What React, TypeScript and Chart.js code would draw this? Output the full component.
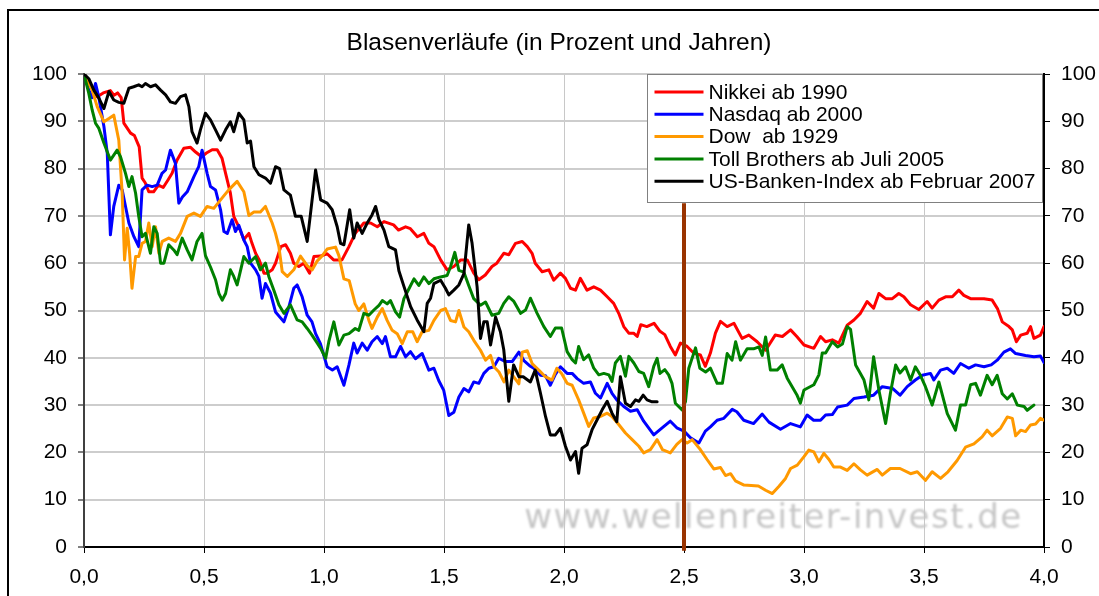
import React, { useEffect, useRef } from 'react';
import { Chart, registerables } from 'chart.js';

Chart.register(...registerables);

const TITLE = 'Blasenverläufe (in Prozent und Jahren)';
const WATERMARK = 'www.wellenreiter-invest.de';
const FONT = '"Liberation Sans", Arial, sans-serif';

const xTicks = [0, 0.5, 1, 1.5, 2, 2.5, 3, 3.5, 4];
const xTickLabels = ['0,0', '0,5', '1,0', '1,5', '2,0', '2,5', '3,0', '3,5', '4,0'];
const yTicks = [0, 10, 20, 30, 40, 50, 60, 70, 80, 90, 100];

const seriesNames = [
  'Nikkei ab 1990',
  'Nasdaq ab 2000',
  'Dow  ab 1929',
  'Toll Brothers ab Juli 2005',
  'US-Banken-Index ab Februar 2007',
];
const seriesColors = ['#ff0000', '#0000ff', '#ff9900', '#008000', '#000000'];

// [years, percent]
const nikkei: [number, number][] = [
  [0, 100], [0.055, 95.2], [0.08, 96], [0.11, 96.5], [0.125, 95.5], [0.14, 96], [0.155, 95], [0.166, 89.6],
  [0.194, 87.5], [0.21, 87], [0.23, 84.6], [0.242, 78], [0.255, 77], [0.27, 75.1], [0.29, 75.1], [0.31, 76.5],
  [0.33, 76], [0.35, 77.6], [0.367, 79], [0.388, 81.8], [0.416, 84.3], [0.444, 84.5], [0.465, 83.5], [0.49, 82.5],
  [0.51, 83.3], [0.534, 84], [0.555, 84], [0.575, 82.2], [0.59, 79], [0.61, 74.8], [0.624, 69.9], [0.645, 67.7],
  [0.666, 65], [0.687, 66.3], [0.7, 64.2], [0.715, 62.1], [0.73, 60.7], [0.75, 57.9], [0.764, 57.9], [0.784, 58.6],
  [0.798, 60], [0.82, 63.5], [0.84, 63.9], [0.86, 62.1], [0.874, 60], [0.895, 59.3], [0.916, 60], [0.94, 57.9],
  [0.958, 61.4], [0.985, 61.5], [1.013, 62], [1.04, 60.7], [1.075, 60.7], [1.104, 63.5], [1.13, 66.3], [1.166, 68.5],
  [1.194, 68.5], [1.222, 67.7], [1.25, 68.8], [1.29, 68.1], [1.31, 67], [1.34, 67.7], [1.36, 67.3], [1.389, 65.6],
  [1.416, 66.3], [1.437, 64.2], [1.458, 63.5], [1.486, 60.7], [1.513, 58.6], [1.541, 59.3], [1.57, 60.7], [1.597, 60.7],
  [1.624, 57.9], [1.645, 56.5], [1.672, 57.5], [1.7, 59.3], [1.72, 60], [1.749, 62.1], [1.77, 61.8], [1.798, 64.2],
  [1.826, 64.6], [1.847, 63.5], [1.867, 62.1], [1.88, 60], [1.909, 58.2], [1.937, 58.6], [1.957, 56.4], [1.985, 57.9],
  [2.006, 56.8], [2.027, 54.7], [2.048, 54.3], [2.068, 56.8], [2.096, 54.3], [2.124, 55], [2.152, 54.3], [2.18, 52.9],
  [2.207, 51.5], [2.228, 49.4], [2.249, 46.6], [2.27, 45.2], [2.29, 45.2], [2.305, 44.5], [2.32, 47], [2.345, 46.6],
  [2.375, 47.3], [2.4, 45.6], [2.42, 44.9], [2.443, 42.4], [2.464, 40.6], [2.485, 43.1], [2.513, 42.4], [2.54, 41],
  [2.568, 40.6], [2.589, 38.2], [2.61, 41], [2.631, 45.2], [2.652, 47.7], [2.68, 46.6], [2.708, 47.3], [2.742, 44.1],
  [2.77, 44.8], [2.805, 43.4], [2.84, 41.6], [2.88, 44.8], [2.91, 44.5], [2.944, 45.9], [2.97, 44.5], [3.0, 42.7],
  [3.041, 42], [3.069, 44.5], [3.09, 43.4], [3.118, 43.8], [3.145, 43.1], [3.18, 46.9], [3.208, 48], [3.235, 49.4],
  [3.263, 51.9], [3.29, 50.5], [3.312, 53.6], [3.34, 52.5], [3.368, 52.5], [3.395, 53.6], [3.416, 52.9], [3.444, 51.2],
  [3.478, 50.2], [3.513, 51.9], [3.534, 50.5], [3.562, 52.2], [3.59, 52.9], [3.618, 52.9], [3.645, 54.3], [3.666, 53.2],
  [3.694, 52.5], [3.75, 52.5], [3.784, 52.2], [3.806, 50.4], [3.826, 47.6], [3.854, 46.6], [3.868, 45.9], [3.885, 43.4],
  [3.903, 44.8], [3.93, 45.2], [3.944, 46.6], [3.958, 44.1], [3.985, 44.8], [4.0, 46.6],
];

const nasdaq: [number, number][] = [
  [0, 100], [0.02, 96.6], [0.034, 95], [0.048, 98], [0.062, 95], [0.083, 88.9], [0.097, 83.2], [0.11, 66],
  [0.124, 72], [0.145, 76.5], [0.159, 75.5], [0.173, 72], [0.187, 68.5], [0.208, 65.6], [0.228, 63.5], [0.242, 75.5],
  [0.263, 76.5], [0.284, 76.2], [0.305, 76.5], [0.325, 79], [0.34, 79.7], [0.36, 83.9], [0.381, 81.1], [0.395, 72.7],
  [0.41, 74], [0.43, 75.1], [0.458, 78.3], [0.478, 80.4], [0.492, 83.9], [0.513, 79], [0.527, 76.2], [0.548, 75.5],
  [0.569, 71.3], [0.583, 66.7], [0.597, 66.3], [0.617, 69.2], [0.631, 66.7], [0.645, 68], [0.666, 64.9], [0.68, 63.5],
  [0.694, 60], [0.715, 58.6], [0.729, 57.2], [0.742, 52.6], [0.756, 55.7], [0.777, 53.7], [0.798, 49.7], [0.833, 47.6],
  [0.854, 50.8], [0.874, 54.7], [0.888, 55.4], [0.909, 52.9], [0.93, 49], [0.95, 47.6], [0.965, 45.1], [0.985, 43],
  [1.013, 38.1], [1.035, 37.4], [1.055, 38.1], [1.083, 34.2], [1.104, 38.5], [1.124, 43.1], [1.138, 41], [1.159, 43.1],
  [1.18, 41.6], [1.2, 43.4], [1.222, 44.5], [1.243, 43], [1.256, 44.5], [1.277, 40.2], [1.298, 40.2], [1.319, 42.4],
  [1.34, 40.2], [1.36, 41.3], [1.381, 39.8], [1.409, 40.9], [1.437, 37.4], [1.458, 37.8], [1.478, 35.2], [1.499, 33.1],
  [1.52, 27.8], [1.541, 28.5], [1.562, 31.7], [1.583, 33.5], [1.603, 32.8], [1.624, 34.9], [1.645, 34.6], [1.666, 36.7],
  [1.687, 37.8], [1.708, 38.1], [1.728, 39.9], [1.756, 39.2], [1.784, 39.2], [1.812, 41.2], [1.833, 39.4], [1.86, 38.2],
  [1.874, 37.8], [1.902, 36.3], [1.923, 36.2], [1.943, 34.2], [1.964, 36.5], [1.985, 38.1], [2.013, 36.7], [2.034, 36.7],
  [2.055, 35.6], [2.082, 34.6], [2.11, 34.9], [2.131, 32.5], [2.152, 31.5], [2.18, 34.6], [2.2, 32.5], [2.22, 31.1],
  [2.249, 29.7], [2.277, 28.7], [2.305, 29], [2.332, 26.6], [2.374, 23.7], [2.4, 24.8], [2.443, 26.6], [2.47, 25.2],
  [2.5, 24.5], [2.527, 23.1], [2.562, 22], [2.589, 24.5], [2.61, 25.4], [2.638, 26.8], [2.666, 27.2], [2.701, 29.1],
  [2.72, 28.6], [2.749, 26.8], [2.79, 26.1], [2.826, 28.1], [2.854, 26.4], [2.902, 24.9], [2.944, 26.1], [2.985, 25.4],
  [3.013, 27.9], [3.04, 26.8], [3.069, 26.8], [3.09, 27.9], [3.118, 28], [3.14, 29.6], [3.18, 30], [3.208, 31.4],
  [3.25, 31.7], [3.29, 32.1], [3.326, 33.9], [3.37, 33.5], [3.4, 32.1], [3.43, 33.9], [3.464, 35.3], [3.493, 36.3],
  [3.527, 36.7], [3.541, 35.3], [3.569, 37.4], [3.597, 37.8], [3.624, 36.7], [3.652, 38.8], [3.687, 37.8], [3.715, 38.5],
  [3.75, 38.1], [3.78, 38.5], [3.805, 39.5], [3.833, 41.2], [3.86, 41.9], [3.882, 40.9], [3.923, 40.5], [3.958, 40.2],
  [3.985, 40.4], [4.0, 39],
];

const dow: [number, number][] = [
  [0, 100], [0.034, 96.6], [0.055, 93.1], [0.083, 89.9], [0.104, 90.6], [0.124, 91.3], [0.145, 86], [0.159, 74.8],
  [0.169, 60.7], [0.18, 67.4], [0.19, 62.1], [0.2, 54.7], [0.215, 61.4], [0.228, 61.4], [0.242, 64.2], [0.256, 64.6],
  [0.27, 68.5], [0.284, 63.5], [0.298, 67.7], [0.312, 62.1], [0.326, 64.6], [0.353, 65.3], [0.381, 64.6], [0.402, 66.3],
  [0.43, 69.9], [0.458, 70.6], [0.485, 69.9], [0.513, 72], [0.541, 71.6], [0.569, 73.4], [0.603, 75.5], [0.638, 77.3],
  [0.666, 75.1], [0.687, 70.1], [0.708, 70.8], [0.735, 70.8], [0.756, 72], [0.784, 68.5], [0.798, 66.3], [0.812, 63.5],
  [0.826, 58.2], [0.847, 57.2], [0.874, 58.6], [0.902, 61.5], [0.93, 59.5], [0.951, 58.6], [0.972, 60.5], [0.993, 61.6],
  [1.013, 63], [1.048, 63.4], [1.062, 61.6], [1.083, 56.7], [1.105, 56.3], [1.13, 51.4], [1.145, 50], [1.166, 51.4],
  [1.187, 47.9], [1.2, 46.2], [1.222, 48.6], [1.243, 50.4], [1.263, 47.9], [1.284, 45.8], [1.305, 45.1], [1.326, 43],
  [1.347, 45.5], [1.37, 45.5], [1.388, 43.4], [1.409, 45.5], [1.437, 45.8], [1.458, 47.9], [1.486, 50], [1.506, 50.4],
  [1.527, 47.9], [1.548, 47.6], [1.562, 50], [1.583, 46.5], [1.603, 45.5], [1.624, 43.7], [1.652, 41.6], [1.673, 39.5],
  [1.694, 40.5], [1.708, 38.1], [1.729, 37], [1.75, 34.9], [1.77, 37.4], [1.79, 36], [1.812, 34.5], [1.826, 41.2],
  [1.847, 41.5], [1.868, 38.7], [1.895, 37.4], [1.922, 36], [1.95, 35.3], [1.97, 37.8], [1.99, 36.7], [2.013, 34.6],
  [2.034, 34.2], [2.061, 31.1], [2.082, 28.3], [2.103, 25.5], [2.124, 27.3], [2.152, 27.6], [2.18, 28.3], [2.2, 27.6],
  [2.228, 25.9], [2.256, 24.1], [2.284, 22.7], [2.312, 21.3], [2.332, 19.9], [2.36, 20.6], [2.388, 22.7], [2.41, 20.6],
  [2.443, 19.9], [2.47, 21.7], [2.492, 22.7], [2.513, 22], [2.534, 22.7], [2.568, 20.6], [2.596, 18.5], [2.624, 16.5],
  [2.652, 16.8], [2.673, 15.1], [2.694, 15.5], [2.714, 14], [2.75, 13.1], [2.78, 13], [2.81, 12.9], [2.84, 12],
  [2.868, 11.3], [2.895, 12.8], [2.923, 14.5], [2.944, 16.6], [2.972, 17.3], [3.0, 19.1], [3.02, 20.5], [3.041, 20.1],
  [3.062, 18], [3.083, 19.8], [3.104, 18.5], [3.124, 16.9], [3.152, 16.9], [3.18, 16.2], [3.208, 17.6], [3.235, 16.3],
  [3.263, 15.2], [3.305, 16.4], [3.326, 15.2], [3.36, 16.6], [3.4, 16.6], [3.444, 15.5], [3.472, 15.9], [3.506, 14.1],
  [3.534, 15.9], [3.569, 14.5], [3.6, 15.9], [3.638, 18.3], [3.673, 21.1], [3.708, 21.8], [3.742, 23.3], [3.763, 24.7],
  [3.784, 23.5], [3.819, 25.1], [3.847, 27.5], [3.868, 27.2], [3.882, 23.5], [3.903, 24.7], [3.923, 24.4], [3.944, 25.8],
  [3.965, 26], [3.985, 27.2], [4.0, 26.8],
];

const toll: [number, number][] = [
  [0, 100], [0.02, 95.9], [0.034, 92.4], [0.048, 89.6], [0.062, 88.5], [0.083, 85.4], [0.11, 81.8], [0.138, 83.9],
  [0.152, 82.5], [0.173, 79], [0.187, 76.2], [0.2, 78.3], [0.215, 74.8], [0.228, 69.9], [0.242, 65.6], [0.256, 66.3],
  [0.277, 62.1], [0.291, 67.7], [0.305, 66.3], [0.319, 60], [0.333, 60], [0.353, 63.9], [0.374, 62.8], [0.388, 61.8],
  [0.409, 65.3], [0.43, 62.8], [0.45, 60.7], [0.471, 64.6], [0.492, 66.3], [0.506, 61.6], [0.527, 59.2], [0.548, 56.5],
  [0.562, 53.6], [0.576, 52.2], [0.59, 53.6], [0.61, 58.6], [0.624, 57.2], [0.638, 55.4], [0.666, 61.4], [0.687, 60],
  [0.715, 61.4], [0.735, 58.6], [0.756, 60], [0.77, 57.2], [0.791, 54.3], [0.812, 51.2], [0.833, 49.4], [0.86, 51.2],
  [0.888, 48], [0.909, 47.6], [0.93, 46.2], [0.95, 44.8], [0.972, 43.1], [0.986, 42], [1.007, 39.9], [1.02, 43.4],
  [1.041, 47.6], [1.062, 42.7], [1.083, 44.8], [1.104, 45.1], [1.13, 46.2], [1.145, 45.8], [1.166, 49.4], [1.187, 49],
  [1.208, 50.1], [1.229, 51.1], [1.243, 52.1], [1.263, 51.4], [1.277, 52.1], [1.298, 49.7], [1.315, 48.6], [1.333, 52.5],
  [1.354, 54.6], [1.375, 56.7], [1.395, 55.3], [1.416, 57.1], [1.437, 55.7], [1.458, 56.7], [1.486, 57.1], [1.513, 57.4],
  [1.527, 59.2], [1.545, 62.3], [1.562, 58.5], [1.583, 58.1], [1.603, 55.3], [1.624, 52.5], [1.652, 51.1], [1.673, 51.8],
  [1.7, 49], [1.728, 49.4], [1.749, 51.5], [1.77, 52.9], [1.79, 52], [1.819, 49.4], [1.84, 50.1], [1.86, 52.6],
  [1.888, 49.4], [1.916, 46.6], [1.943, 44.5], [1.964, 46.3], [1.99, 46.3], [2.013, 41.3], [2.034, 39.6], [2.048, 38.9],
  [2.061, 42.4], [2.082, 39.6], [2.103, 40.6], [2.124, 37.8], [2.145, 36.4], [2.166, 36.7], [2.187, 36.4], [2.2, 35],
  [2.214, 38.9], [2.235, 40.3], [2.256, 36.1], [2.27, 40.3], [2.291, 38.9], [2.312, 37.1], [2.332, 36.7], [2.353, 33.9],
  [2.374, 38.2], [2.388, 39.9], [2.4, 36.7], [2.42, 37.5], [2.436, 36.4], [2.45, 34.6], [2.464, 30.4], [2.492, 29],
  [2.506, 30.7], [2.52, 37.8], [2.548, 42.1], [2.566, 37.8], [2.59, 37], [2.61, 37.8], [2.638, 34.6], [2.66, 34.6],
  [2.68, 40.9], [2.7, 39.5], [2.715, 43.4], [2.735, 39.5], [2.763, 41.9], [2.79, 41.9], [2.812, 42.3], [2.826, 40.5],
  [2.84, 44.4], [2.86, 37.4], [2.888, 37.4], [2.909, 38.5], [2.93, 35.7], [2.97, 32.2], [2.985, 30.4], [3.0, 33.2],
  [3.041, 34.3], [3.062, 36.4], [3.076, 41], [3.09, 41], [3.118, 43.4], [3.14, 42.3], [3.16, 42.9], [3.18, 46.6],
  [3.194, 46], [3.215, 38.5], [3.235, 36.7], [3.25, 35.3], [3.27, 31.1], [3.29, 40.2], [3.312, 33.2], [3.34, 26.1],
  [3.36, 32.5], [3.382, 38.5], [3.4, 36.8], [3.423, 38.1], [3.444, 35.3], [3.464, 38.1], [3.485, 36.3], [3.506, 33.9],
  [3.534, 30], [3.562, 34.9], [3.597, 28.2], [3.631, 24.7], [3.652, 30], [3.673, 30], [3.694, 34.3], [3.715, 34.6],
  [3.735, 32.1], [3.763, 36.3], [3.784, 34.3], [3.805, 36.3], [3.826, 32.4], [3.847, 31.3], [3.868, 32.4], [3.889, 30],
  [3.917, 29.7], [3.93, 28.9], [3.958, 30],
];

const banken: [number, number][] = [
  [0, 100], [0.02, 99], [0.041, 96.6], [0.062, 94.9], [0.083, 92.7], [0.104, 96.3], [0.124, 94.5], [0.145, 94],
  [0.166, 93.8], [0.187, 97], [0.207, 97.3], [0.228, 97.7], [0.242, 97.3], [0.256, 98], [0.277, 97.3], [0.298, 97.7],
  [0.319, 96.6], [0.34, 95.6], [0.36, 94.1], [0.381, 93.8], [0.402, 95.2], [0.423, 95.6], [0.437, 93.1], [0.45, 87.8],
  [0.471, 85.4], [0.485, 88.2], [0.506, 91.7], [0.527, 90.3], [0.548, 88.2], [0.569, 86], [0.59, 88.2], [0.61, 89.9],
  [0.624, 87.8], [0.645, 91.7], [0.666, 90.3], [0.68, 85.4], [0.694, 85.8], [0.708, 80.4], [0.729, 78.7], [0.756, 78],
  [0.777, 76.9], [0.798, 80.4], [0.815, 80], [0.833, 75.5], [0.86, 74.4], [0.881, 69.9], [0.905, 69.9], [0.93, 64.6],
  [0.944, 70.6], [0.965, 79.7], [0.986, 73.4], [1.013, 72.7], [1.034, 71.3], [1.055, 67.7], [1.069, 64.2], [1.083, 63.9],
  [1.107, 71.3], [1.124, 65.3], [1.138, 68.5], [1.159, 66.3], [1.18, 68.5], [1.2, 70.2], [1.215, 72], [1.229, 69.2],
  [1.25, 67], [1.27, 63.5], [1.298, 62.8], [1.312, 58.4], [1.333, 55.1], [1.361, 50.8], [1.388, 48], [1.416, 45.5],
  [1.43, 51.5], [1.444, 52.6], [1.458, 55.7], [1.486, 56.4], [1.506, 54.7], [1.52, 53.3], [1.541, 54.3], [1.562, 55.4],
  [1.583, 57.8], [1.603, 68.1], [1.617, 64.2], [1.638, 55], [1.652, 44.1], [1.666, 47.6], [1.68, 47.6], [1.694, 42.7],
  [1.715, 48.6], [1.735, 45.5], [1.749, 41.7], [1.77, 30.8], [1.79, 38.5], [1.812, 36], [1.83, 36], [1.86, 34.9],
  [1.88, 37.4], [1.902, 32.5], [1.923, 27.6], [1.943, 23.7], [1.964, 23.7], [1.985, 25.1], [2.006, 21.3], [2.027, 18.4],
  [2.048, 20.2], [2.061, 15.6], [2.075, 20.9], [2.096, 21.6], [2.117, 24.8], [2.138, 26.9], [2.159, 29], [2.18, 30.8],
  [2.2, 28.3], [2.22, 26.5], [2.235, 36], [2.256, 30.4], [2.277, 29.7], [2.298, 31.1], [2.312, 30.8], [2.33, 32.1],
  [2.346, 31.1], [2.367, 30.7], [2.388, 30.7],
];

const seriesData = [nikkei, nasdaq, dow, toll, banken];

const markerYear = 2.5;
const markerTop = 72.7;
const markerBottom = -0.8;
const watermarkYear = 2.873;
const watermarkLevel = 4;

export default function App() {
  const canvasRef = useRef<HTMLCanvasElement | null>(null);

  useEffect(() => {
    const canvas = canvasRef.current;
    if (!canvas) return;

    const framePlugin = {
      id: 'frame',
      beforeDraw(chart: any) {
        const ctx = chart.ctx;
        ctx.save();
        ctx.fillStyle = '#ffffff';
        ctx.fillRect(0, 0, chart.width, chart.height);
        ctx.strokeStyle = '#000000';
        ctx.lineWidth = 2;
        ctx.beginPath();
        ctx.moveTo(8, chart.height + 5);
        ctx.lineTo(8, 10);
        ctx.lineTo(chart.width + 5, 10);
        ctx.stroke();
        ctx.restore();
      },
    };

    const watermarkPlugin = {
      id: 'watermark',
      beforeDatasetsDraw(chart: any) {
        const ctx = chart.ctx;
        const xs = chart.scales.x;
        const ys = chart.scales.y;
        ctx.save();
        ctx.font = '34px "DejaVu Sans", Verdana, sans-serif';
        (ctx as any).letterSpacing = '1.5px';
        ctx.fillStyle = '#c6c6c6';
        ctx.filter = 'blur(0.8px)';
        ctx.textAlign = 'center';
        ctx.textBaseline = 'alphabetic';
        ctx.fillText(WATERMARK, xs.getPixelForValue(watermarkYear), ys.getPixelForValue(watermarkLevel));
        ctx.restore();
      },
    };

    const markerPlugin = {
      id: 'marker',
      afterDatasetsDraw(chart: any) {
        const ctx = chart.ctx;
        const xs = chart.scales.x;
        const ys = chart.scales.y;
        const x = xs.getPixelForValue(markerYear);
        ctx.save();
        ctx.strokeStyle = '#993300';
        ctx.lineWidth = 4;
        ctx.beginPath();
        ctx.moveTo(x, ys.getPixelForValue(markerTop));
        ctx.lineTo(x, ys.getPixelForValue(markerBottom));
        ctx.stroke();
        ctx.restore();
      },
    };

    const legendPlugin = {
      id: 'boxLegend',
      afterDatasetsDraw(chart: any) {
        const ctx = chart.ctx;
        const area = chart.chartArea;
        const left = Math.round(area.right - 397) + 0.5;
        const top = Math.round(area.top) + 0.5;
        const width = 395;
        const height = 128;
        ctx.save();
        ctx.fillStyle = '#ffffff';
        ctx.fillRect(left, top, width, height);
        ctx.strokeStyle = '#808080';
        ctx.lineWidth = 1;
        ctx.strokeRect(left, top, width, height);
        ctx.font = `21px ${FONT}`;
        ctx.textAlign = 'left';
        ctx.textBaseline = 'middle';
        chart.data.datasets.forEach((ds: any, i: number) => {
          const y = top + 17.5 + i * 22.3;
          ctx.strokeStyle = ds.borderColor;
          ctx.lineWidth = 3;
          ctx.beginPath();
          ctx.moveTo(left + 7, y);
          ctx.lineTo(left + 56, y);
          ctx.stroke();
          ctx.fillStyle = '#000000';
          ctx.fillText(ds.label, left + 61, y + 1);
        });
        ctx.restore();
      },
    };

    const datasets = seriesData.map((series, i) => ({
      label: seriesNames[i],
      data: series.map(([x, y]) => ({ x, y })),
      borderColor: seriesColors[i],
      backgroundColor: seriesColors[i],
      borderWidth: 3,
      pointRadius: 0,
      tension: 0,
      fill: false,
      borderJoinStyle: 'round' as const,
      borderCapStyle: 'round' as const,
      order: seriesData.length - i,
      yAxisID: 'y',
    }));

    const chart = new Chart(canvas, {
      type: 'line',
      data: { datasets },
      plugins: [framePlugin, watermarkPlugin, markerPlugin, legendPlugin],
      options: {
        animation: false,
        responsive: false,
        devicePixelRatio: 1,
        layout: { padding: { top: 0, left: 19, right: 0, bottom: 0 } },
        plugins: {
          legend: { display: false },
          tooltip: { enabled: false },
          title: {
            display: true,
            text: TITLE,
            color: '#000000',
            font: { family: FONT, size: 24.5, weight: 'normal' },
            padding: { top: 28.3, bottom: 16.3 },
          },
        },
        scales: {
          x: {
            type: 'linear',
            min: 0,
            max: 4,
            afterBuildTicks: (scale: any) => {
              scale.ticks = xTicks.map((v) => ({ value: v }));
            },
            afterFit: (scale: any) => {
              scale.height = 49;
            },
            ticks: {
              autoSkip: false,
              maxRotation: 0,
              padding: 12,
              color: '#000000',
              font: { family: FONT, size: 21 },
              callback: (v: any) => xTickLabels[xTicks.indexOf(Number(v))] ?? '',
            },
            grid: {
              color: '#c8c8c8',
              lineWidth: 1,
              tickLength: 6,
              tickColor: '#000000',
              tickWidth: 1,
            },
            border: { display: true, color: '#000000', width: 2 },
          },
          y: {
            type: 'linear',
            position: 'left',
            min: 0,
            max: 100,
            afterBuildTicks: (scale: any) => {
              scale.ticks = yTicks.map((v) => ({ value: v }));
            },
            afterFit: (scale: any) => {
              scale.width = 65;
            },
            ticks: {
              padding: 11,
              color: '#000000',
              font: { family: FONT, size: 21 },
              callback: (v: any) => String(v),
            },
            grid: {
              color: '#cdcdcd',
              lineWidth: 2,
              tickLength: 6,
              tickColor: '#000000',
              tickWidth: 1,
            },
            border: { display: true, color: '#404040', width: 2 },
          },
          y2: {
            type: 'linear',
            position: 'right',
            display: true,
            min: 0,
            max: 100,
            afterBuildTicks: (scale: any) => {
              scale.ticks = yTicks.map((v) => ({ value: v }));
            },
            afterFit: (scale: any) => {
              scale.width = 55;
            },
            ticks: {
              padding: 11,
              color: '#000000',
              font: { family: FONT, size: 21 },
              callback: (v: any) => String(v),
            },
            grid: {
              drawOnChartArea: false,
              tickLength: 6,
              tickColor: '#000000',
              tickWidth: 1,
            },
            border: { display: true, color: '#000000', width: 2 },
          },
        },
      },
    } as any);

    return () => {
      chart.destroy();
    };
  }, []);

  return (
    <div style={{ position: 'fixed', left: 0, top: 0, width: 1099, height: 596, background: '#ffffff' }}>
      <canvas ref={canvasRef} width={1099} height={596} style={{ display: 'block', width: 1099, height: 596 }} />
    </div>
  );
}
